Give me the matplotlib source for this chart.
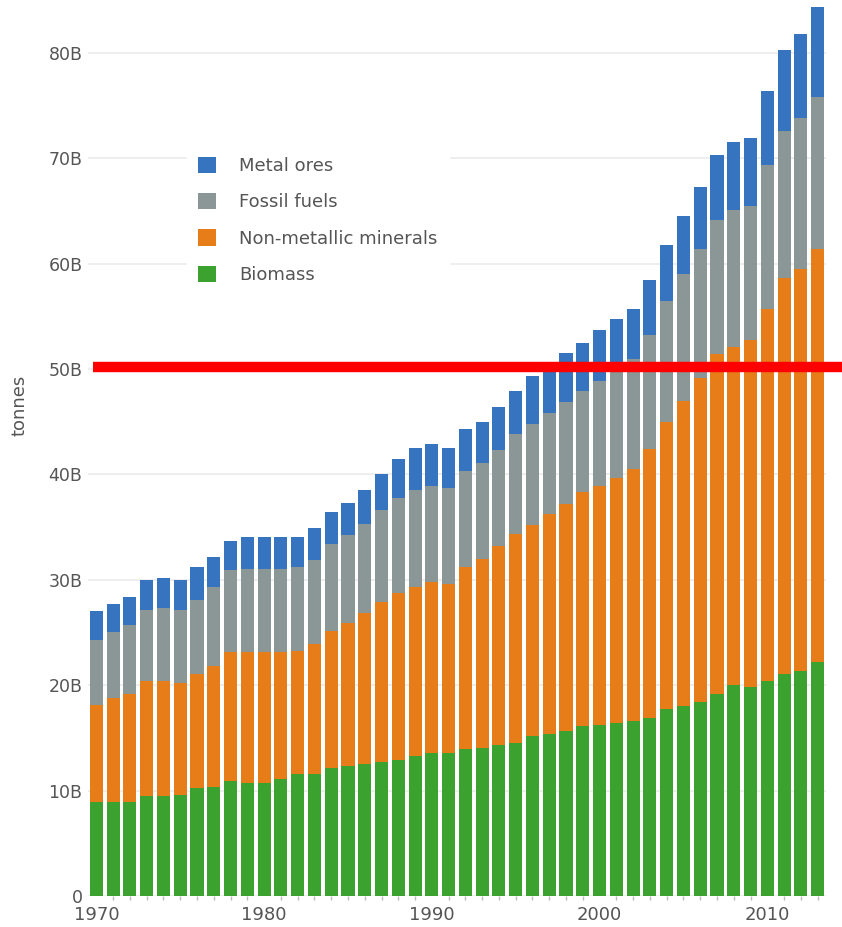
"""Global material extraction by material group, 1970-2013 (stacked bars)."""
import matplotlib
matplotlib.use("Agg")
import matplotlib.pyplot as plt
import numpy as np
from matplotlib.ticker import FuncFormatter, MultipleLocator

YEARS = list(range(1970, 2014))

# billions of tonnes
BIOMASS = [8.9, 8.9, 8.9, 9.5, 9.5, 9.6, 10.2, 10.3, 10.9, 10.7,
           10.7, 11.1, 11.6, 11.6, 12.1, 12.3, 12.5, 12.7, 12.9, 13.3,
           13.6, 13.6, 13.9, 14.0, 14.3, 14.5, 15.2, 15.4, 15.7, 16.1,
           16.2, 16.4, 16.6, 16.9, 17.7, 18.0, 18.4, 19.2, 20.0, 19.8,
           20.4, 21.1, 21.3, 22.2]
NON_METALLIC = [9.2, 9.9, 10.3, 10.9, 10.9, 10.6, 10.9, 11.5, 12.2, 12.4,
                12.4, 12.0, 11.6, 12.3, 13.0, 13.6, 14.3, 15.2, 15.8, 16.0,
                16.2, 16.0, 17.3, 18.0, 18.9, 19.8, 20.0, 20.8, 21.5, 22.2,
                22.7, 23.3, 23.9, 25.5, 27.3, 29.0, 30.7, 32.2, 32.1, 32.9,
                35.3, 37.5, 38.2, 39.2]
FOSSIL = [6.2, 6.2, 6.5, 6.7, 6.9, 6.9, 7.0, 7.5, 7.8, 7.9,
          7.9, 7.9, 8.0, 8.0, 8.3, 8.3, 8.5, 8.7, 9.1, 9.2,
          9.1, 9.1, 9.1, 9.1, 9.1, 9.5, 9.6, 9.6, 9.7, 9.6,
          10.0, 10.2, 10.4, 10.8, 11.4, 12.0, 12.3, 12.7, 13.0, 12.8,
          13.6, 14.0, 14.3, 14.4]
METAL = [2.7, 2.7, 2.7, 2.9, 2.9, 2.9, 3.1, 2.9, 2.8, 3.1,
         3.1, 3.1, 2.9, 3.0, 3.0, 3.1, 3.2, 3.4, 3.7, 4.0,
         4.0, 3.8, 4.0, 3.9, 4.1, 4.1, 4.5, 4.5, 4.6, 4.6,
         4.8, 4.8, 4.8, 5.2, 5.4, 5.5, 5.9, 6.2, 6.4, 6.4,
         7.1, 7.7, 8.0, 8.5]

REF_LINE = 50.2
X_TICKS = [1970, 1980, 1990, 2000, 2010]

BLUE = "#3674BF"
GRAY = "#8B9696"
ORANGE = "#E67D19"
GREEN = "#3BA22F"
TEXT = "#555555"
GRID = "#EBEBEB"

fig = plt.figure(figsize=(8.42, 9.27), dpi=100)
fig.patch.set_facecolor("white")
ax = fig.add_axes([88 / 842, 31 / 927, 738 / 842, 896 / 927])

x = np.array(YEARS)
bottom = np.zeros(len(YEARS))
bars = {}
for name, vals, color in [("Biomass", BIOMASS, GREEN),
                          ("Non-metallic minerals", NON_METALLIC, ORANGE),
                          ("Fossil fuels", FOSSIL, GRAY),
                          ("Metal ores", METAL, BLUE)]:
    vals = np.array(vals)
    bars[name] = ax.bar(x, vals, width=0.78, bottom=bottom, color=color,
                        label=name, zorder=2, linewidth=0)
    bottom += vals

ax.set_xlim(1969.5, 2013.5)
ax.set_ylim(0, 85)
ax.yaxis.set_major_locator(MultipleLocator(10))
ax.yaxis.set_major_formatter(FuncFormatter(lambda v, _: "0" if v == 0 else f"{v:.0f}B"))
ax.set_xticks(X_TICKS)
ax.set_xticks(YEARS, minor=True)
ax.grid(axis="y", color=GRID, linewidth=1.2, zorder=0)
for s in ax.spines.values():
    s.set_visible(False)
ax.tick_params(axis="y", length=0, pad=4, labelsize=12.5, labelcolor=TEXT)
ax.tick_params(axis="x", which="major", length=0, pad=7, labelsize=13, labelcolor=TEXT)
ax.tick_params(axis="x", which="minor", length=3, width=1, color="#BBBBBB")
ax.set_ylabel("tonnes", fontsize=13, color=TEXT)
ax.yaxis.set_label_coords(-0.08, 0.548)

ax.axhline(REF_LINE, xmin=0.007, xmax=1.03, color="#FF0000", linewidth=7.5,
           clip_on=False, zorder=5, solid_capstyle="butt")

order = ["Metal ores", "Fossil fuels", "Non-metallic minerals", "Biomass"]
leg = ax.legend([bars[n] for n in order], order, loc="upper left",
                bbox_to_anchor=(187 / 842, 1 - 146 / 927), bbox_transform=fig.transFigure,
                frameon=True, fancybox=False, framealpha=1, edgecolor="white",
                fontsize=13, handlelength=1.0, handleheight=1.0,
                handletextpad=1.3, labelspacing=1.0, borderpad=0.6, borderaxespad=0)
for t in leg.get_texts():
    t.set_color(TEXT)
leg.set_zorder(4)

fig.savefig("out.png", dpi=100, facecolor="white")
